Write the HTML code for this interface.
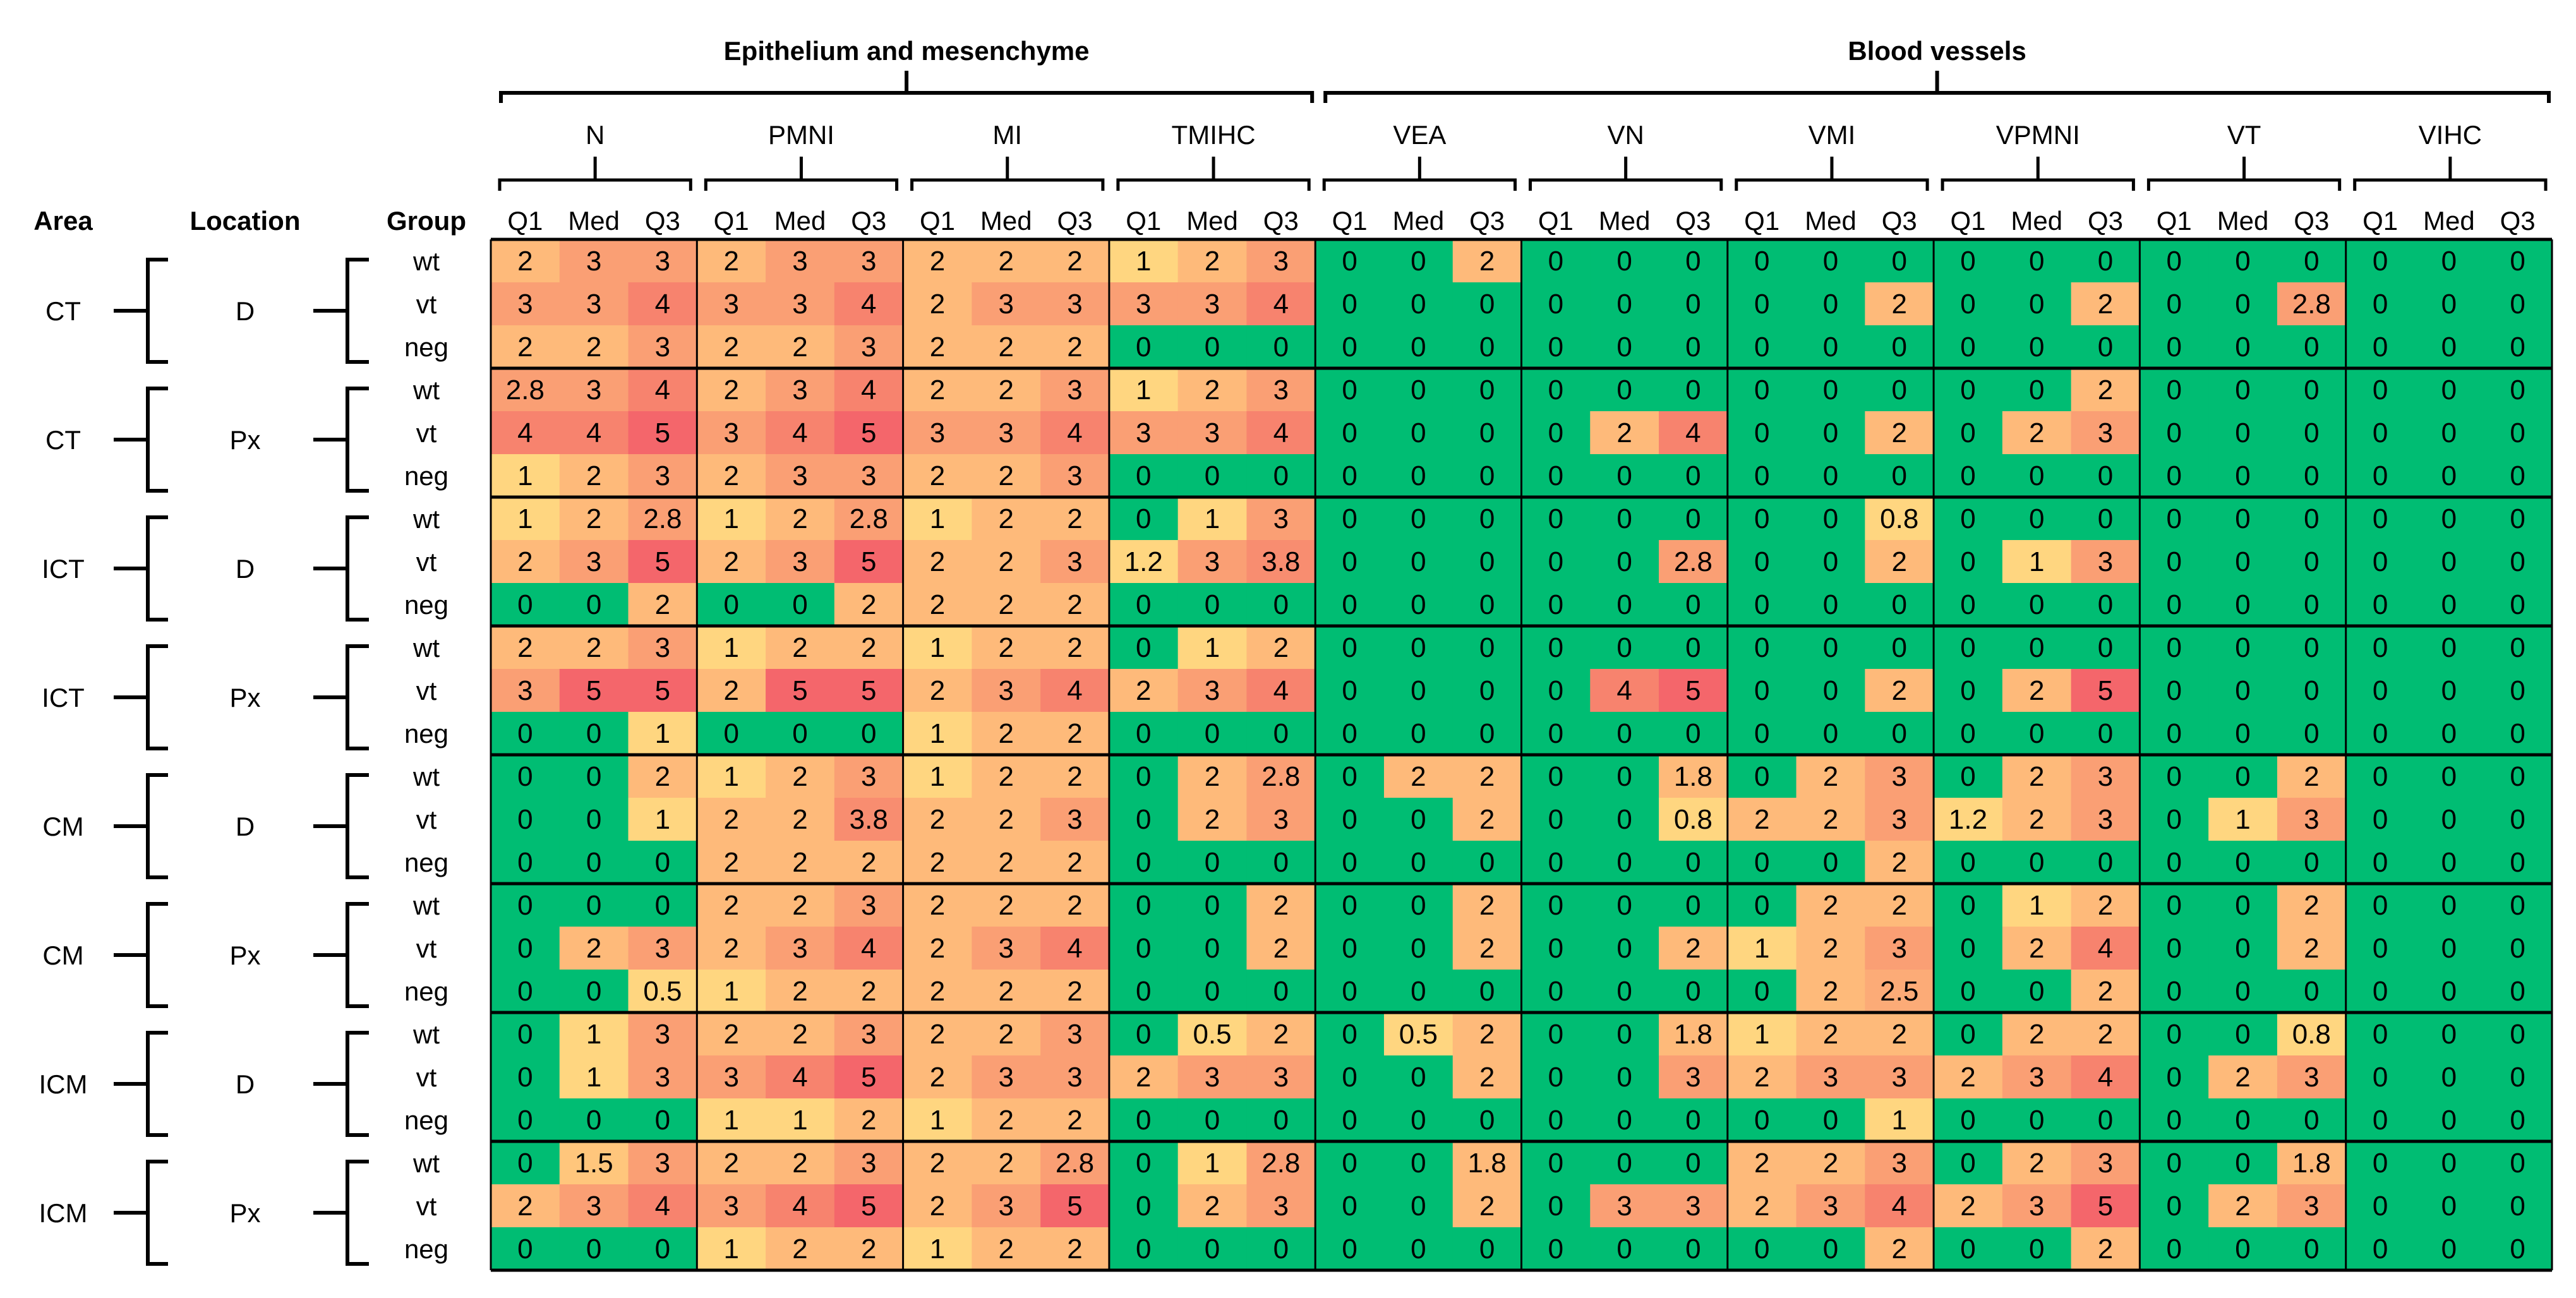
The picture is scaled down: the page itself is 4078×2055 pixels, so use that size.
<!DOCTYPE html>
<html><head><meta charset="utf-8"><style>
html,body{margin:0;padding:0;background:#fff;}
svg{display:block;font-family:"Liberation Sans",sans-serif;}
</style></head><body>
<svg id="chart" width="4078" height="2055" viewBox="0 0 4078 2055" xmlns="http://www.w3.org/2000/svg">
<g id="cells"></g>
<g id="lines"></g>
<g id="labels"></g>
</svg>
<script>
const superGroups = ["Epithelium and mesenchyme", "Blood vessels"];
const superSpan = [4, 6];
const variables = ["N","PMNI","MI","TMIHC","VEA","VN","VMI","VPMNI","VT","VIHC"];
const stats = ["Q1","Med","Q3"];
const areas = ["CT","CT","ICT","ICT","CM","CM","ICM","ICM"];
const locations = ["D","Px","D","Px","D","Px","D","Px"];
const groups = ["wt","vt","neg"];
const values = [
 [2,3,3, 2,3,3, 2,2,2, 1,2,3, 0,0,2, 0,0,0, 0,0,0, 0,0,0, 0,0,0, 0,0,0],
 [3,3,4, 3,3,4, 2,3,3, 3,3,4, 0,0,0, 0,0,0, 0,0,2, 0,0,2, 0,0,2.8, 0,0,0],
 [2,2,3, 2,2,3, 2,2,2, 0,0,0, 0,0,0, 0,0,0, 0,0,0, 0,0,0, 0,0,0, 0,0,0],
 [2.8,3,4, 2,3,4, 2,2,3, 1,2,3, 0,0,0, 0,0,0, 0,0,0, 0,0,2, 0,0,0, 0,0,0],
 [4,4,5, 3,4,5, 3,3,4, 3,3,4, 0,0,0, 0,2,4, 0,0,2, 0,2,3, 0,0,0, 0,0,0],
 [1,2,3, 2,3,3, 2,2,3, 0,0,0, 0,0,0, 0,0,0, 0,0,0, 0,0,0, 0,0,0, 0,0,0],
 [1,2,2.8, 1,2,2.8, 1,2,2, 0,1,3, 0,0,0, 0,0,0, 0,0,0.8, 0,0,0, 0,0,0, 0,0,0],
 [2,3,5, 2,3,5, 2,2,3, 1.2,3,3.8, 0,0,0, 0,0,2.8, 0,0,2, 0,1,3, 0,0,0, 0,0,0],
 [0,0,2, 0,0,2, 2,2,2, 0,0,0, 0,0,0, 0,0,0, 0,0,0, 0,0,0, 0,0,0, 0,0,0],
 [2,2,3, 1,2,2, 1,2,2, 0,1,2, 0,0,0, 0,0,0, 0,0,0, 0,0,0, 0,0,0, 0,0,0],
 [3,5,5, 2,5,5, 2,3,4, 2,3,4, 0,0,0, 0,4,5, 0,0,2, 0,2,5, 0,0,0, 0,0,0],
 [0,0,1, 0,0,0, 1,2,2, 0,0,0, 0,0,0, 0,0,0, 0,0,0, 0,0,0, 0,0,0, 0,0,0],
 [0,0,2, 1,2,3, 1,2,2, 0,2,2.8, 0,2,2, 0,0,1.8, 0,2,3, 0,2,3, 0,0,2, 0,0,0],
 [0,0,1, 2,2,3.8, 2,2,3, 0,2,3, 0,0,2, 0,0,0.8, 2,2,3, 1.2,2,3, 0,1,3, 0,0,0],
 [0,0,0, 2,2,2, 2,2,2, 0,0,0, 0,0,0, 0,0,0, 0,0,2, 0,0,0, 0,0,0, 0,0,0],
 [0,0,0, 2,2,3, 2,2,2, 0,0,2, 0,0,2, 0,0,0, 0,2,2, 0,1,2, 0,0,2, 0,0,0],
 [0,2,3, 2,3,4, 2,3,4, 0,0,2, 0,0,2, 0,0,2, 1,2,3, 0,2,4, 0,0,2, 0,0,0],
 [0,0,0.5, 1,2,2, 2,2,2, 0,0,0, 0,0,0, 0,0,0, 0,2,2.5, 0,0,2, 0,0,0, 0,0,0],
 [0,1,3, 2,2,3, 2,2,3, 0,0.5,2, 0,0.5,2, 0,0,1.8, 1,2,2, 0,2,2, 0,0,0.8, 0,0,0],
 [0,1,3, 3,4,5, 2,3,3, 2,3,3, 0,0,2, 0,0,3, 2,3,3, 2,3,4, 0,2,3, 0,0,0],
 [0,0,0, 1,1,2, 1,2,2, 0,0,0, 0,0,0, 0,0,0, 0,0,1, 0,0,0, 0,0,0, 0,0,0],
 [0,1.5,3, 2,2,3, 2,2,2.8, 0,1,2.8, 0,0,1.8, 0,0,0, 2,2,3, 0,2,3, 0,0,1.8, 0,0,0],
 [2,3,4, 3,4,5, 2,3,5, 0,2,3, 0,0,2, 0,3,3, 2,3,4, 2,3,5, 0,2,3, 0,0,0],
 [0,0,0, 1,2,2, 1,2,2, 0,0,0, 0,0,0, 0,0,0, 0,0,2, 0,0,2, 0,0,0, 0,0,0]
];

const NS = "http://www.w3.org/2000/svg";
const GX0 = 777, GX1 = 4040, GY0 = 379, GY1 = 2011;
const nCols = variables.length * stats.length, nRows = values.length;
const colW = (GX1 - GX0) / nCols, rowH = (GY1 - GY0) / nRows;
const xCol = c => GX0 + c * colW;
const yRow = r => GY0 + r * rowH;
function color(v){
  if (v === 0) return "#00BD73";
  if (v <= 1.2) return "#FFD680";
  if (v < 1.7) return "#FFC67C";
  if (v <= 2) return "#FEBA7A";
  if (v <= 2.5) return "#FCAB77";
  if (v <= 3) return "#FA9F74";
  if (v < 4) return "#F88D70";
  if (v < 5) return "#F7836E";
  return "#F4666B";
}
function mk(tag, attrs, parent){
  const e = document.createElementNS(NS, tag);
  for (const k in attrs) e.setAttribute(k, attrs[k]);
  parent.appendChild(e);
  return e;
}
const cells = document.getElementById("cells");
const lines = document.getElementById("lines");
const labels = document.getElementById("labels");

values.forEach((row, r) => {
  row.forEach((v, c) => {
    const rc = mk("rect", {x: xCol(c), y: yRow(r), width: colW + 0.6, height: rowH + 0.6, fill: color(v)}, cells);
    
    
    const t = mk("text", {x: xCol(c) + colW/2, y: yRow(r) + rowH/2 + 15, "text-anchor": "middle", "font-size": 44, fill: "#000"}, cells);
    
    
    t.textContent = String(v);
  });
});

function line(x1,y1,x2,y2,w,name,parent){
  const l = mk("line", {x1, y1, x2, y2, stroke: "#000", "stroke-width": w}, parent || lines);
  
  
  return l;
}
for (let g = 0; g <= variables.length; g++) line(xCol(g*3), GY0, xCol(g*3), GY1, 3, 'variable-divider');
for (let k = 0; k <= areas.length; k++) line(GX0, yRow(k*3), GX1, yRow(k*3), 5, 'row-group-divider');

let startVar = 0;
superGroups.forEach((name, i) => {
  const x1 = xCol(startVar*3) + 16, x2 = xCol((startVar + superSpan[i])*3) - 5;
  const cx = (x1 + x2) / 2;
  const p = mk("path", {d: `M${x1},163 L${x1},147 L${x2},147 L${x2},163 M${cx},147 L${cx},112`, stroke: "#000", "stroke-width": 6, fill: "none"}, labels);
  
  
  const t = mk("text", {x: cx, y: 95, "text-anchor": "middle", "font-size": 42, "font-weight": "bold"}, labels);
  
  
  t.textContent = name;
  startVar += superSpan[i];
});

variables.forEach((name, g) => {
  const x1 = xCol(g*3) + 14, x2 = xCol(g*3+3) - 10;
  const cx = (x1 + x2) / 2;
  const p = mk("path", {d: `M${x1},302 L${x1},285 L${x2},285 L${x2},302 M${cx},285 L${cx},248`, stroke: "#000", "stroke-width": 5, fill: "none"}, labels);
  
  
  const t = mk("text", {x: cx, y: 228, "text-anchor": "middle", "font-size": 42}, labels);
  
  
  t.textContent = name;
  stats.forEach((s, j) => {
    const st = mk("text", {x: xCol(g*3+j) + colW/2, y: 364, "text-anchor": "middle", "font-size": 42}, labels);
    
    
    st.textContent = s;
  });
});

[["Area",100],["Location",388],["Group",675]].forEach(([s,x]) => {
  const t = mk("text", {x, y: 364, "text-anchor": "middle", "font-size": 42, "font-weight": "bold"}, labels);
  
  
  t.textContent = s;
});

areas.forEach((a, k) => {
  const top = yRow(k*3);
  const mid = top + 113;
  const y1 = top + 32, y2 = top + 194;
  [[234,266,180],[550,584,496]].forEach(([vx,hx,tx]) => {
    const p = mk("path", {d: `M${hx},${y1} L${vx},${y1} L${vx},${y2} L${hx},${y2} M${vx},${mid} L${tx},${mid}`, stroke: "#000", "stroke-width": 6, fill: "none"}, labels);
    
    
  });
  const ta = mk("text", {x: 100, y: mid + 15, "text-anchor": "middle", "font-size": 42}, labels);
  
  
  ta.textContent = a;
  const tl = mk("text", {x: 388, y: mid + 15, "text-anchor": "middle", "font-size": 42}, labels);
  
  
  tl.textContent = locations[k];
  groups.forEach((g, j) => {
    const tg = mk("text", {x: 675, y: yRow(k*3+j) + rowH/2 + 15, "text-anchor": "middle", "font-size": 42}, labels);
    
    
    tg.textContent = g;
  });
});
</script>
</body></html>
